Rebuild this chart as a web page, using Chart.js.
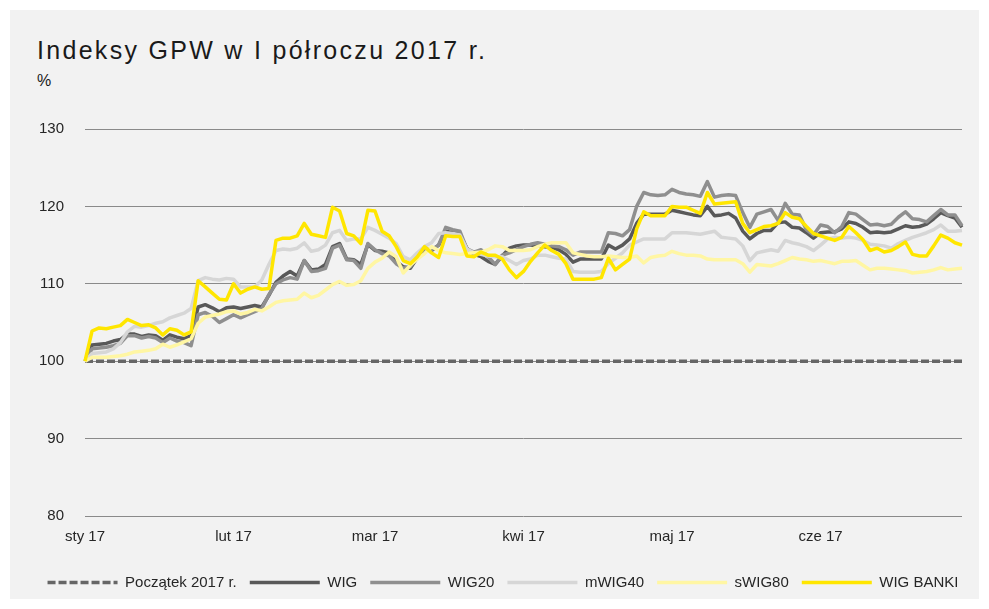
<!DOCTYPE html>
<html><head><meta charset="utf-8">
<script src="https://cdn.jsdelivr.net/npm/chart.js@4"></script>
<style>
html,body{margin:0;padding:0;background:#fff;width:989px;height:609px;overflow:hidden}
#panel{position:absolute;left:10px;top:10px;width:969px;height:589px;background:#f2f2f2;}
#title{position:absolute;left:37px;top:36px;font:25px 'Liberation Sans';letter-spacing:2.3px;color:#1a1a1a;white-space:nowrap}
#unit{position:absolute;left:37px;top:72px;font:16px 'Liberation Sans';color:#1a1a1a}
canvas{position:absolute;left:0;top:0}
</style></head><body>
<div id="panel"></div>
<div id="title">Indeksy GPW w I półroczu 2017 r.</div>
<div id="unit">%</div>
<canvas id="c" width="989" height="609"></canvas>
<script>
const monthLabels = ['sty 17','lut 17','mar 17','kwi 17','maj 17','cze 17'];
const monthStartIndex = [0,21,41,62,83,104];
const pointCount = 125;
const startLevel = 100;
const yMin = 80, yMax = 130, yStep = 10;
const seriesNames = ['Początek 2017 r.','WIG','WIG20','mWIG40','sWIG80','WIG BANKI'];

const wig = [100,102.1,102.2,102.3,102.6,102.8,103.5,103.5,103.2,103.4,
103.3,102.7,103.4,103.1,102.9,103.3,107.0,107.3,106.9,106.4,
106.9,107.0,106.8,107.0,107.2,107.0,108.5,110.2,111.0,111.6,
111.0,113.0,111.8,111.9,112.5,114.8,115.2,113.2,113.1,112.5,
115.1,114.3,114.2,114.0,112.9,112.2,112.0,113.4,114.4,114.3,
115.0,116.8,116.6,116.4,114.6,113.8,113.5,112.9,112.5,113.6,
114.6,114.9,115.0,115.0,114.9,114.8,114.7,114.4,113.8,112.8,
113.2,113.2,113.2,113.2,115.0,114.5,115.0,115.8,117.8,119.0,
119.0,119.0,119.0,119.5,119.3,119.1,118.9,118.8,120.0,118.8,
118.9,119.1,118.5,116.8,115.8,116.5,116.9,116.9,117.9,118.0,
117.3,117.2,116.6,115.9,116.6,116.7,116.7,117.1,118.0,117.8,
117.3,116.6,116.7,116.6,116.7,117.1,117.5,117.3,117.4,117.7,
118.4,119.2,118.8,118.5,117.3];

const wig20 = [100,101.6,101.7,101.8,102.0,102.3,103.3,103.3,103.0,103.2,
103.0,102.4,103.0,102.6,102.4,102.0,106.0,106.3,105.8,105.0,
105.5,106.0,105.6,106.0,106.4,106.8,108.6,110.0,110.5,110.8,
110.6,113.0,111.6,111.7,112.0,114.6,115.0,113.1,113.0,112.0,
115.2,114.4,113.9,113.6,112.6,112.0,112.2,113.6,114.6,114.4,
115.0,117.3,117.0,116.8,114.5,114.1,114.4,113.5,112.5,113.7,
114.0,114.4,114.8,115.1,115.3,115.1,114.9,114.8,114.4,113.7,
114.1,114.1,114.1,114.1,116.6,116.5,116.2,117.0,120.0,121.8,
121.5,121.4,121.5,122.2,121.8,121.6,121.5,121.3,123.2,121.2,
121.4,121.5,121.4,119.2,117.3,119.0,119.3,119.6,118.2,120.4,
119.0,118.9,117.0,116.3,117.6,117.4,116.6,117.4,119.2,119.0,
118.3,117.6,117.7,117.5,117.7,118.6,119.3,118.4,118.3,118.0,
118.8,119.6,118.9,118.9,117.5];

const mwig40 = [100,101.0,101.1,101.2,101.6,102.4,103.8,104.5,104.4,104.6,
104.9,105.1,105.6,105.9,106.2,106.8,110.4,110.8,110.6,110.5,
110.7,110.6,109.6,109.6,109.6,110.5,112.5,114.3,114.5,114.4,
114.6,115.3,114.2,114.4,115.0,116.6,116.9,115.6,115.8,115.8,
117.3,116.9,116.4,115.9,115.2,113.5,113.1,114.0,114.8,115.3,
116.5,116.6,116.5,116.3,114.5,114.0,113.8,113.6,113.5,113.5,
113.0,112.5,113.0,113.2,113.7,113.7,113.5,113.3,113.2,111.6,
111.5,111.5,111.5,111.6,112.6,113.3,114.0,115.0,115.4,115.8,
115.8,115.8,115.8,116.6,116.6,116.6,116.5,116.4,116.6,116.8,
116.0,115.9,115.8,114.9,113.0,114.0,114.2,114.4,114.2,115.6,
115.3,115.1,114.8,114.3,115.0,115.8,116.0,115.9,116.0,115.9,
115.6,115.1,115.0,114.9,114.6,115.2,115.6,116.0,116.3,116.6,
117.0,117.6,116.8,116.8,116.9];

const swig80 = [100,100.5,100.5,100.5,100.6,100.7,100.9,101.2,101.3,101.4,
101.6,102.2,101.8,102.1,102.5,102.9,104.9,105.7,105.9,106.1,
106.4,106.5,106.1,106.3,106.7,106.5,107.0,107.6,107.8,107.9,
108.0,108.8,108.2,108.5,109.2,109.9,110.3,109.8,109.9,110.4,
112.0,112.8,113.3,114.1,113.5,111.4,112.4,113.2,113.9,114.8,
114.3,114.0,113.9,113.8,113.9,114.0,114.1,114.4,114.9,114.8,
114.3,114.3,114.3,114.4,114.8,115.1,115.3,115.3,115.3,114.0,
113.8,113.6,113.5,113.5,113.6,113.5,113.4,113.4,113.6,112.7,
113.4,113.6,113.7,114.2,113.9,113.7,113.7,113.6,113.2,113.1,
113.1,113.1,113.1,112.6,111.5,112.5,112.4,112.3,112.6,113.0,
113.4,113.2,113.1,112.9,113.0,112.8,112.6,112.9,112.9,113.0,
112.4,111.8,112.0,112.0,111.9,111.8,111.7,111.4,111.5,111.6,
111.8,112.1,111.8,111.9,112.0];

const wigBanki = [100,103.9,104.3,104.2,104.4,104.6,105.4,105.0,104.6,104.7,
104.3,103.4,104.2,104.0,103.4,103.8,110.4,109.6,108.8,108.0,
107.9,110.0,108.8,109.3,109.6,109.3,109.4,115.6,115.9,115.9,
116.2,117.8,116.4,116.2,116.0,119.9,119.4,116.5,116.2,115.2,
119.5,119.4,116.8,116.2,114.8,113.0,112.6,113.5,114.8,114.0,
113.4,116.2,116.1,116.1,113.6,113.5,114.1,113.7,113.7,113.2,
111.8,110.8,111.6,112.9,114.0,115.0,114.3,113.8,112.6,110.6,
110.6,110.6,110.6,110.8,113.3,111.8,112.5,113.2,117.1,119.3,
118.8,118.8,118.8,120.0,119.9,119.9,119.5,119.1,121.8,120.3,
120.4,120.5,120.6,117.8,116.6,117.0,117.4,117.5,117.8,119.2,
118.6,118.4,117.4,116.5,116.2,115.9,115.6,116.0,117.4,116.6,
115.7,114.3,114.6,114.1,114.3,114.8,115.4,113.8,113.6,113.6,
114.9,116.3,115.9,115.3,115.0];

const colors = ['#666666','#595959','#8f8f8f','#d6d6d6','#fff6a3','#ffe600'];
const lineWidth = 3.5;

const labels = [];
for (let i = 0; i < pointCount; i++) {
  const m = monthStartIndex.indexOf(i);
  labels.push(m >= 0 ? monthLabels[m] : '');
}
const baseline = labels.map(() => startLevel);
const seriesData = [baseline, wig, wig20, mwig40, swig80, wigBanki];

const datasets = seriesData.map((d, i) => ({
  label: seriesNames[i],
  data: d,
  borderColor: colors[i],
  backgroundColor: colors[i],
  borderWidth: lineWidth,
  borderDash: i === 0 ? [8, 3] : [],
  pointRadius: 0,
  tension: 0,
  fill: false,
  borderJoinStyle: 'round',
  order: seriesData.length - 1 - i
}));

Chart.defaults.font.family = "'Liberation Sans', Arial, sans-serif";
Chart.defaults.font.size = 15;
Chart.defaults.color = '#262626';

const legendShift = {
  id: 'legendShift',
  afterLayout(chart) {
    const lg = chart.legend;
    if (lg) { lg.left += 22; lg.right += 22; }
  }
};

new Chart(document.getElementById('c'), {
  type: 'line',
  data: { labels, datasets },
  plugins: [legendShift],
  options: {
    responsive: false,
    animation: false,
    events: [],
    layout: { padding: { top: 129, right: 27, bottom: 9, left: 0 } },
    plugins: {
      tooltip: { enabled: false },
      legend: {
        position: 'bottom',
        labels: {
          usePointStyle: true,
          pointStyle: 'line',
          pointStyleWidth: 70,
          padding: 13,
          color: '#262626',
          font: { size: 15 },
          sort: (a, b) => a.datasetIndex - b.datasetIndex,
          generateLabels: (chart) => {
            const items = Chart.defaults.plugins.legend.labels.generateLabels(chart);
            items.forEach((it) => {
              const ds = chart.data.datasets[it.datasetIndex];
              it.lineWidth = lineWidth;
              it.strokeStyle = ds.borderColor;
              it.lineDash = ds.borderDash;
              it.lineCap = 'butt';
            });
            return items;
          }
        }
      }
    },
    scales: {
      x: {
        type: 'category',
        grid: { display: false, drawTicks: false },
        border: { display: false },
        ticks: { autoSkip: false, maxRotation: 0, minRotation: 0, padding: 12, color: '#262626' },
        afterFit: (s) => { s.height = 46; }
      },
      y: {
        min: yMin, max: yMax,
        grid: { color: '#8a8a8a', lineWidth: 1, drawTicks: false },
        border: { display: false },
        ticks: { stepSize: yStep, padding: 21, color: '#262626' },
        afterFit: (s) => { s.width = 85; }
      }
    }
  }
});
</script>
</body></html>
